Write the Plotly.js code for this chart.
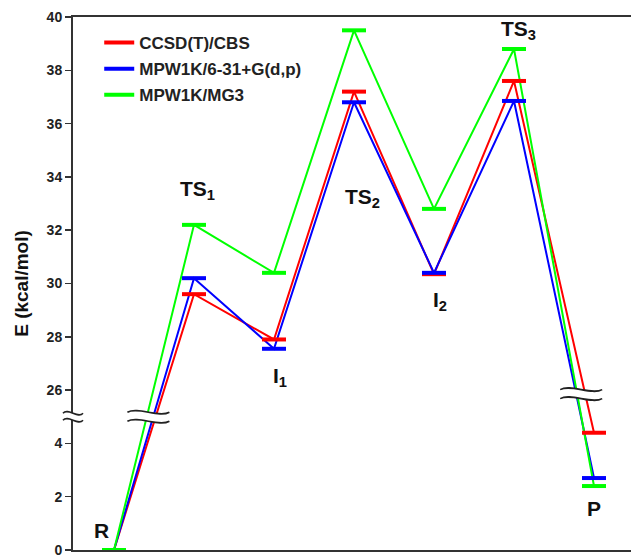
<!DOCTYPE html>
<html>
<head>
<meta charset="utf-8">
<script src="https://cdn.plot.ly/plotly-3.0.1.min.js"></script>
<style>html,body{margin:0;padding:0;background:#fff;}#chart{width:631px;height:556px;}</style>
</head>
<body>
<div id="chart"></div>
<script>
// ---- data ----
const categories = ['R', 'TS<sub>1</sub>', 'I<sub>1</sub>', 'TS<sub>2</sub>', 'I<sub>2</sub>', 'TS<sub>3</sub>', 'P'];
const seriesNames = ['CCSD(T)/CBS', 'MPW1K/6-31+G(d,p)', 'MPW1K/MG3'];
const ccsdCBS   = [0, 29.6, 27.9, 37.2, 30.35, 37.6, 4.4];
const mpw631G   = [0, 30.2, 27.55, 36.8, 30.4, 36.85, 2.7];
const mpwMG3    = [0, 32.2, 30.4, 39.5, 32.8, 38.8, 2.4];
const tickValues = [0, 2, 4, 26, 28, 30, 32, 34, 36, 38, 40];

// broken axis: values above the break are shifted down by the gap
const BREAK_GAP = 20;
function toDisplay(v) { return v > 15 ? v - BREAK_GAP : v; }

const colors = ['#ff0000', '#0000ff', '#00ff00'];
const allSeries = [ccsdCBS, mpw631G, mpwMG3];
const xIdx = categories.map((c, i) => i);
const HALF = 0.15;

const traces = [];
allSeries.forEach((s, k) => {
  traces.push({
    x: xIdx, y: s.map(toDisplay), mode: 'lines', type: 'scatter',
    line: {color: colors[k], width: 2}, showlegend: false,
    legendgroup: 'g' + k, cliponaxis: false, hoverinfo: 'skip'
  });
});
allSeries.forEach((s, k) => {
  const bx = [], by = [];
  s.forEach((v, i) => { bx.push(i - HALF, i + HALF, null); by.push(toDisplay(v), toDisplay(v), null); });
  traces.push({
    x: bx, y: by, mode: 'lines', type: 'scatter', name: seriesNames[k],
    line: {color: colors[k], width: 4}, legendgroup: 'g' + k,
    cliponaxis: false, hoverinfo: 'skip'
  });
});

// break marks (pixel-sized shapes)
function breakMark(xref, xa, ya, w, gap, amp) {
  const hw = w / 2, g = gap / 2;
  const top = `M${-hw},${g} C${-hw / 2},${g + 2 * amp} ${hw / 2},${g - 2 * amp} ${hw},${g}`;
  const bot = `M${-hw},${-g} C${-hw / 2},${-g + 2 * amp} ${hw / 2},${-g - 2 * amp} ${hw},${-g}`;
  const fill = `M${-hw},${g} C${-hw / 2},${g + 2 * amp} ${hw / 2},${g - 2 * amp} ${hw},${g} L${hw},${-g} C${hw / 2},${-g - 2 * amp} ${-hw / 2},${-g + 2 * amp} ${-hw},${-g} Z`;
  const base = {xref: xref, yref: 'y', xsizemode: 'pixel', ysizemode: 'pixel', xanchor: xa, yanchor: ya, layer: 'above'};
  return [
    Object.assign({type: 'path', path: fill, fillcolor: '#ffffff', line: {width: 0}}, base),
    Object.assign({type: 'path', path: top, line: {color: '#222', width: 1.6}}, base),
    Object.assign({type: 'path', path: bot, line: {color: '#222', width: 1.6}}, base)
  ];
}
const shapes = [].concat(
  breakMark('paper', 0, 5.0, 20, 7, 3),
  breakMark('x', 0.43, 5.0, 42, 9, 3),
  breakMark('x', 5.84, 5.85, 42, 9, 3)
);

const labelFont = {family: 'Liberation Sans, Arial, sans-serif', size: 21, color: '#111', weight: 'bold'};
const labelOffsets = [[-0.16, 0.75], [0.04, 13.5], [0.07, 6.5], [0.1, 13.2], [0.08, 9.35], [0.05, 19.5], [0.0, 1.55]];
const annotations = categories.map((c, i) => ({
  x: i + labelOffsets[i][0], y: labelOffsets[i][1], xref: 'x', yref: 'y',
  text: c, showarrow: false, font: labelFont, xanchor: 'center', yanchor: 'middle'
}));

const layout = {
  width: 631, height: 556,
  margin: {l: 73, r: 0, t: 17, b: 6},
  paper_bgcolor: '#fff', plot_bgcolor: '#fff',
  showlegend: true,
  legend: {
    x: 0.047, y: 0.985, xanchor: 'left', yanchor: 'top',
    traceorder: 'grouped', tracegroupgap: 1,
    font: {family: 'Liberation Sans, Arial, sans-serif', size: 17, color: '#222', weight: 'bold'},
    bgcolor: 'rgba(0,0,0,0)'
  },
  xaxis: {
    range: [-0.5125, 6.4625], showgrid: false, zeroline: false,
    showticklabels: false, ticks: '', showline: true, mirror: true,
    linecolor: '#333', linewidth: 2
  },
  yaxis: {
    range: [0, 20], showgrid: false, zeroline: false,
    tickvals: tickValues.map(toDisplay), ticktext: tickValues.map(String),
    ticks: 'outside', ticklen: 6, tickwidth: 1.5, tickcolor: '#333',
    ticklabeloverflow: 'allow',
    showline: true, linecolor: '#333', linewidth: 2,
    tickfont: {family: 'Liberation Sans, Arial, sans-serif', size: 14, color: '#222', weight: 'bold'},
    title: {text: 'E (kcal/mol)', standoff: 13,
            font: {family: 'Liberation Sans, Arial, sans-serif', size: 19, color: '#111', weight: 'bold'}}
  },
  shapes: shapes,
  annotations: annotations
};

Plotly.newPlot('chart', traces, layout, {displayModeBar: false, staticPlot: true});
</script>
</body>
</html>
